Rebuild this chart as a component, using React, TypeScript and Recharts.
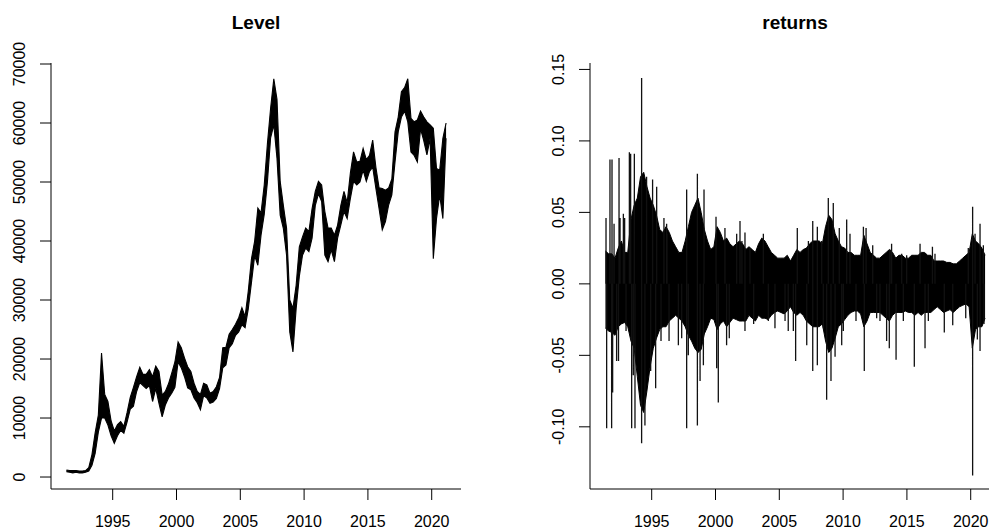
import { Area, ComposedChart, Line, XAxis, YAxis } from 'recharts'

// quarterly bins, first bin centred on 1991.375
const BIN_START = 1991.375
const BIN_STEP = 0.25

// Level: min / max per quarter (thousands)
const LEVEL_LO = [
  0.9, 0.8, 0.7, 0.8, 0.7, 0.7, 0.8, 1.0, 2.0, 4.0,
  7.6, 10.0, 10.0, 8.8, 7.0, 5.7, 7.0, 7.9, 7.4, 9.3,
  11.5, 12.0, 14.5, 16.0, 15.5, 15.0, 15.5, 12.8, 15.0, 12.5,
  10.2, 12.2, 13.4, 14.2, 15.2, 19.5, 18.5, 17.0, 15.1, 14.8,
  13.4, 12.6, 11.4, 13.8, 13.4, 12.5, 12.7, 13.3, 15.0, 18.5,
  19.0, 21.9, 22.6, 24.0, 24.6, 25.8, 25.3, 28.5, 33.0, 37.5,
  35.9, 41.0, 44.5, 50.0, 57.5, 59.7, 54.0, 44.4, 42.1, 37.6,
  24.6, 21.2, 28.5, 34.0, 37.6, 38.8, 38.2, 40.5, 46.0, 48.0,
  46.7, 37.6, 36.5, 38.5, 36.5, 40.5, 42.7, 45.0, 43.8, 47.2,
  50.1, 49.5, 50.0, 52.0, 50.1, 51.8, 52.5, 48.9, 45.5, 41.9,
  43.3, 46.1, 47.8, 53.4, 58.5, 61.0, 62.0, 60.2, 55.1, 54.5,
  53.4, 59.0, 57.0, 54.6, 57.4, 37.0, 43.8, 47.8, 43.8, 57.4,
]
const LEVEL_HI = [
  1.2, 1.1, 1.1, 1.1, 1.0, 1.0, 1.1, 1.6, 3.8, 7.5,
  10.5, 21.0, 14.0, 12.8, 9.5, 7.8, 8.9, 9.4, 8.6, 10.9,
  13.5, 15.2, 17.0, 18.6, 17.4, 17.4, 18.2, 17.0, 18.8, 17.9,
  13.9, 14.5, 15.8, 17.6, 19.5, 22.9, 21.9, 20.2, 18.7, 17.9,
  15.9, 14.5, 14.0, 15.9, 15.6, 14.2, 14.5, 15.3, 16.9, 21.9,
  22.0, 24.2, 25.0, 25.9, 27.0, 28.7, 27.2, 31.5, 37.0, 40.0,
  45.6, 44.8, 49.5, 56.5, 62.5, 67.5, 64.0, 50.1, 46.0, 42.2,
  30.0, 28.6, 32.5, 39.0, 40.7, 42.2, 41.6, 45.5, 48.4, 50.1,
  49.5, 45.0, 42.2, 42.2, 41.0, 42.7, 46.0, 48.4, 46.5, 51.5,
  55.1, 53.4, 53.5, 55.7, 53.8, 54.5, 57.1, 52.5, 49.0, 48.9,
  48.6, 49.0, 50.5, 58.5, 61.0, 65.3, 66.0, 67.5, 60.8, 60.2,
  60.5, 62.0, 61.0, 60.2, 59.7, 59.1, 52.3, 52.0, 57.4, 60.0,
]

// returns: dense core band per quarter
const RET_HI = [
  0.023, 0.021, 0.021, 0.018, 0.025, 0.03, 0.022, 0.022, 0.045, 0.055,
  0.06, 0.075, 0.078, 0.068, 0.06, 0.055, 0.048, 0.038, 0.036, 0.04,
  0.036, 0.03, 0.026, 0.022, 0.022, 0.03, 0.04, 0.05, 0.055, 0.06,
  0.05, 0.038, 0.03, 0.024, 0.026, 0.04, 0.036, 0.03, 0.032, 0.028,
  0.026, 0.028, 0.03, 0.028, 0.024, 0.026, 0.024, 0.022, 0.028, 0.032,
  0.03, 0.026, 0.022, 0.02, 0.018, 0.018, 0.018, 0.02, 0.016, 0.02,
  0.024, 0.022, 0.024, 0.025, 0.028, 0.03, 0.03, 0.03, 0.028, 0.04,
  0.048, 0.045, 0.035, 0.03, 0.026, 0.025, 0.022, 0.022, 0.02, 0.02,
  0.02, 0.034, 0.028, 0.022, 0.02, 0.018, 0.018, 0.02, 0.022, 0.024,
  0.022, 0.018, 0.02, 0.02, 0.018, 0.018, 0.02, 0.02, 0.02, 0.022,
  0.022, 0.02, 0.02, 0.016, 0.016, 0.016, 0.016, 0.015, 0.015, 0.014,
  0.014, 0.016, 0.018, 0.02, 0.022, 0.035, 0.03, 0.028, 0.025, 0.02,
]
const RET_LO = [
  -0.031, -0.033, -0.034, -0.036, -0.03, -0.028, -0.027, -0.03, -0.04, -0.045,
  -0.065, -0.085, -0.09, -0.075, -0.058, -0.045, -0.038, -0.032, -0.03, -0.03,
  -0.026, -0.024, -0.022, -0.024, -0.026, -0.03, -0.036, -0.04, -0.045, -0.048,
  -0.046, -0.035, -0.03, -0.024, -0.025, -0.032, -0.028, -0.026, -0.03, -0.027,
  -0.024, -0.025, -0.026, -0.026, -0.026, -0.022, -0.024, -0.026, -0.022, -0.024,
  -0.024, -0.025, -0.022, -0.02, -0.019, -0.02, -0.021, -0.019, -0.016, -0.02,
  -0.022, -0.02, -0.022, -0.026, -0.028, -0.03, -0.03, -0.03, -0.028, -0.04,
  -0.048, -0.045, -0.038, -0.03, -0.028, -0.025, -0.022, -0.02, -0.019, -0.019,
  -0.021, -0.03, -0.026, -0.02, -0.02, -0.02, -0.02, -0.022, -0.024, -0.026,
  -0.022, -0.02, -0.02, -0.02, -0.019, -0.02, -0.02, -0.022, -0.02, -0.022,
  -0.02, -0.02, -0.02, -0.018, -0.016, -0.018, -0.02, -0.019, -0.018, -0.02,
  -0.018, -0.016, -0.015, -0.014, -0.016, -0.045, -0.032, -0.03, -0.03, -0.024,
]

// single-day spikes sticking out of the band
const SPIKE_T = [
  1991.42, 1991.47, 1991.73, 1991.89, 1991.86, 1991.94, 1992.25, 1992.4, 1992.44, 1992.52,
  1992.78, 1992.88, 1993.25, 1993.35, 1993.43, 1993.56, 1993.64, 1993.69, 1994.21, 1994.21,
  1994.47, 1994.6, 1994.92, 1995.07, 1995.31, 1995.39, 1995.73, 1995.96, 1996.17, 1996.36,
  1997.09, 1997.35, 1997.74, 1997.74, 1997.87, 1998.58, 1998.58, 1998.79, 1999.05, 1999.1,
  2000.04, 2000.09, 2000.22, 2000.74, 2000.87, 2001.08, 2001.66, 2001.92, 2002.31, 2002.31,
  2003.75, 2004.66, 2005.45, 2005.7, 2006.1, 2006.28, 2006.41, 2007.15, 2007.62, 2007.62,
  2007.98, 2007.98, 2008.32, 2008.71, 2008.84, 2009.05, 2009.23, 2009.37, 2009.89, 2010.28,
  2010.54, 2011.01, 2011.59, 2011.66, 2011.8, 2012.32, 2013.41, 2013.62, 2013.8, 2014.15,
  2015.58, 2016.03, 2016.42, 2017.0, 2017.93, 2018.59, 2019.61, 2020.15, 2020.15, 2020.34,
  2020.52, 2020.73, 2020.73, 2020.99,
  1992.05, 1992.99, 1996.2, 2002.07, 2002.7, 2002.99, 2004.14, 2007.28, 2008.45, 2009.7,
  2010.02, 2012.63, 2012.89, 2013.67, 2014.59, 2014.72, 2014.98, 2016.68, 2017.2, 2019.81,
  2021.04,
]
const SPIKE_V = [
  0.046, -0.101, 0.087, 0.087, -0.101, -0.076, -0.054, -0.054, 0.088, 0.046,
  0.049, 0.046, 0.092, 0.091, -0.101, -0.064, 0.091, -0.101, 0.144, -0.1115,
  -0.099, 0.075, -0.061, 0.073, -0.073, 0.068, -0.04, 0.046, 0.042, -0.04,
  -0.043, -0.038, 0.066, -0.101, -0.05, 0.077, -0.099, -0.068, -0.057, 0.066,
  0.047, -0.059, -0.083, 0.039, -0.043, -0.038, 0.035, 0.044, 0.036, -0.033,
  0.035, -0.031, -0.026, -0.033, -0.033, -0.054, 0.039, -0.043, 0.044, -0.061,
  0.04, -0.057, 0.03, -0.081, 0.06, -0.068, 0.0565, -0.051, -0.043, 0.045,
  0.035, -0.026, 0.04, -0.061, 0.039, 0.027, -0.04, -0.045, 0.028, -0.053,
  -0.058, 0.028, -0.045, 0.026, -0.034, -0.029, -0.024, 0.054, -0.134, 0.035,
  -0.039, 0.042, -0.047, 0.027,
  0.042, -0.033, 0.035, 0.03, 0.025, -0.028, -0.026, 0.03, -0.031, 0.039,
  -0.033, -0.024, -0.026, 0.024, 0.021, -0.026, 0.02, -0.026, 0.021, 0.025,
  -0.028,
]

const YEAR_TICKS = [1995, 2000, 2005, 2010, 2015, 2020]
const LEVEL_TICKS = [0, 10000, 20000, 30000, 40000, 50000, 60000, 70000]
const RET_TICKS = [-0.1, -0.05, 0, 0.05, 0.1, 0.15]

const X_DOMAIN: [number, number] = [1990.165, 2022.295]
const LEVEL_DOMAIN: [number, number] = [-2030, 70170]
const RET_DOMAIN: [number, number] = [-0.1435, 0.1545]

const levelData = LEVEL_LO.map((lo, i) => ({
  t: BIN_START + i * BIN_STEP,
  band: [lo * 1000, LEVEL_HI[i] * 1000],
}))

const coreData = RET_LO.map((lo, i) => ({
  t: BIN_START + i * BIN_STEP,
  band: [lo, RET_HI[i]],
}))

const spikeData = SPIKE_T.flatMap((t, i) => [
  { t, v: 0 },
  { t, v: SPIKE_V[i] },
  { t, v: null },
])

const FONT = '"Liberation Sans", Arial, Helvetica, sans-serif'

function YearTick({ x, y, payload }: any) {
  return (
    <text x={x} y={y + 27} textAnchor="middle" fontSize={16} fontFamily={FONT} fill="#000">
      {payload.value}
    </text>
  )
}

function makeYTick(fmt: (v: number) => string) {
  return function YTick({ x, y, payload }: any) {
    return (
      <text
        transform={`translate(${x - 15},${y}) rotate(-90)`}
        textAnchor="middle"
        fontSize={16}
        fontFamily={FONT}
        fill="#000"
      >
        {fmt(payload.value)}
      </text>
    )
  }
}

const LevelTick = makeYTick((v) => String(v))
const RetTick = makeYTick((v) => v.toFixed(2))

const CHART_W = 470
const CHART_H = 530
const MARGIN = { top: 63, right: 9, bottom: 0, left: 0 }

function Title({ text, center }: { text: string; center: number }) {
  return (
    <div
      style={{
        position: 'absolute',
        left: center - 100,
        width: 200,
        top: 10,
        textAlign: 'center',
        fontFamily: FONT,
        fontWeight: 'bold',
        fontSize: 19,
        lineHeight: '26px',
        color: '#000',
      }}
    >
      {text}
    </div>
  )
}

export default function App() {
  return (
    <div
      style={{
        position: 'fixed',
        left: 0,
        top: 0,
        width: 989,
        height: 530,
        overflow: 'hidden',
        background: '#fff',
      }}
    >
      <Title text="Level" center={256} />
      <Title text="returns" center={795} />

      <div style={{ position: 'absolute', left: 0, top: 0 }}>
        <ComposedChart width={CHART_W} height={CHART_H} data={levelData} margin={MARGIN}>
          <XAxis
            dataKey="t"
            type="number"
            domain={X_DOMAIN}
            ticks={YEAR_TICKS}
            allowDataOverflow
            interval={0}
            height={41}
            tickSize={11}
            tickMargin={0}
            axisLine={{ stroke: '#000' }}
            tickLine={{ stroke: '#000' }}
            tick={<YearTick />}
          />
          <YAxis
            type="number"
            domain={LEVEL_DOMAIN}
            ticks={LEVEL_TICKS}
            allowDataOverflow
            interval={0}
            width={51}
            tickSize={11}
            tickMargin={0}
            axisLine={{ stroke: '#000' }}
            tickLine={{ stroke: '#000' }}
            tick={<LevelTick />}
          />
          <Area
            dataKey="band"
            type="linear"
            stroke="#000"
            strokeWidth={1.1}
            fill="#000"
            fillOpacity={1}
            dot={false}
            activeDot={false}
            isAnimationActive={false}
          />
        </ComposedChart>
      </div>

      <div style={{ position: 'absolute', left: 539, top: 0 }}>
        <ComposedChart width={CHART_W} height={CHART_H} data={coreData} margin={MARGIN}>
          <XAxis
            dataKey="t"
            type="number"
            domain={X_DOMAIN}
            ticks={YEAR_TICKS}
            allowDataOverflow
            interval={0}
            height={41}
            tickSize={11}
            tickMargin={0}
            axisLine={{ stroke: '#000' }}
            tickLine={{ stroke: '#000' }}
            tick={<YearTick />}
          />
          <YAxis
            type="number"
            domain={RET_DOMAIN}
            ticks={RET_TICKS}
            allowDataOverflow
            interval={0}
            width={51}
            tickSize={11}
            tickMargin={0}
            axisLine={{ stroke: '#000' }}
            tickLine={{ stroke: '#000' }}
            tick={<RetTick />}
          />
          <Area
            dataKey="band"
            type="linear"
            stroke="#000"
            strokeWidth={1}
            fill="#000"
            fillOpacity={1}
            dot={false}
            activeDot={false}
            isAnimationActive={false}
          />
          <Line
            data={spikeData}
            dataKey="v"
            type="linear"
            stroke="#111"
            strokeWidth={1.3}
            dot={false}
            activeDot={false}
            connectNulls={false}
            isAnimationActive={false}
          />
        </ComposedChart>
      </div>
    </div>
  )
}
